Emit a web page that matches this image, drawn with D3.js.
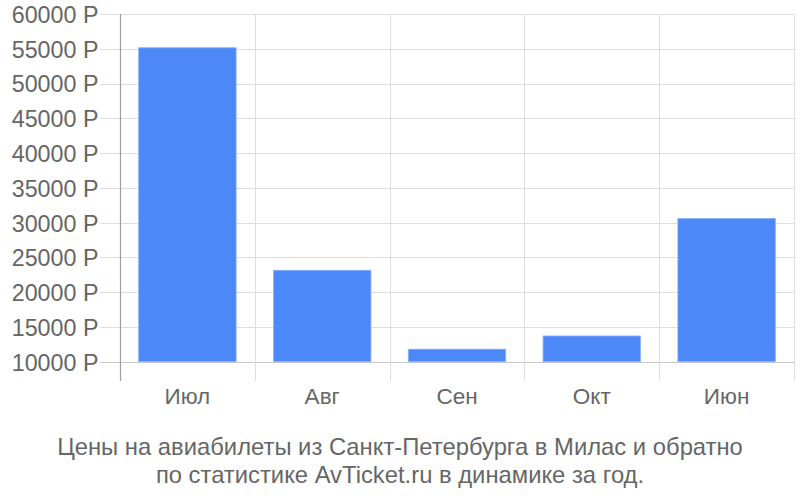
<!DOCTYPE html>
<html><head><meta charset="utf-8">
<script src="https://cdn.jsdelivr.net/npm/d3@7"></script>
<style>body{margin:0;background:#fff}svg{display:block}</style>
</head><body><svg id="c" width="800" height="500"></svg>
<script>
const categories = ["Июл","Авг","Сен","Окт","Июн"];
const values = [55150, 23150, 11800, 13700, 30600];
const yTicks = [10000,15000,20000,25000,30000,35000,40000,45000,50000,55000,60000];
const titleLines = ["Цены на авиабилеты из Санкт-Петербурга в Милас и обратно","по статистике AvTicket.ru в динамике за год."];

(function(){
const svg = d3.select("#c");
const font = "'Liberation Sans', Arial, sans-serif";
const pLeft = 120, pRight = 794, pTop = 14, base = 361.7, axisBottom = 381;
const x = d3.scaleBand().domain(categories).range([pLeft, pRight]).paddingInner(0.277).paddingOuter(0.1385);
const y = d3.scaleLinear().domain([10000, 60000]).range([base, pTop]);

// horizontal grid
svg.append("g").selectAll("line").data(yTicks).join("line")
  .attr("x1", 100).attr("x2", pRight).attr("y1", d => Math.round(y(d))+0.5).attr("y2", d => Math.round(y(d))+0.5)
  .attr("stroke", d => d === 10000 ? "#c8c8c8" : "#dedede").attr("stroke-width", 1);

// vertical grid at band boundaries
const bnd = d3.range(categories.length+1).map(i => pLeft + i * (pRight-pLeft)/categories.length);
svg.append("g").selectAll("line").data(bnd.slice(1)).join("line")
  .attr("x1", d => Math.round(d)+0.5).attr("x2", d => Math.round(d)+0.5).attr("y1", pTop).attr("y2", axisBottom)
  .attr("stroke", "#dedede");

// bars
svg.append("g").selectAll("rect").data(values).join("rect")
  .attr("x", (d,i) => x(categories[i])).attr("width", x.bandwidth())
  .attr("y", d => y(d)).attr("height", d => base - y(d))
  .attr("fill", "#4d88f9").attr("stroke", "#8fb3fb").attr("stroke-width", 0.8);

// left axis line
svg.append("line").attr("x1", pLeft+0.5).attr("x2", pLeft+0.5).attr("y1", pTop).attr("y2", axisBottom)
  .attr("stroke", "#a0a0a0").attr("stroke-width", 1.2);

// y labels
const yAxis = d3.axisLeft(y).tickValues(yTicks).tickSize(0).tickPadding(0).tickFormat(d => d + " Р");
const ya = svg.append("g").attr("transform", `translate(98.5,0)`).call(yAxis);
ya.select(".domain").remove();
ya.selectAll("text").attr("font-family", font).attr("font-size", 23.3).attr("fill", "#666").attr("dy", "0.36em");

// x labels
const xAxis = d3.axisBottom(x).tickSize(0).tickPadding(0);
const xa = svg.append("g").attr("transform", `translate(0,404)`).call(xAxis);
xa.select(".domain").remove();
xa.selectAll("text").attr("font-family", font).attr("font-size", 22.5).attr("fill", "#666").attr("dy", "0");

// title
svg.append("g").selectAll("text").data(titleLines).join("text")
  .attr("x", 400).attr("y", (d,i) => 455 + i*28).attr("text-anchor", "middle")
  .attr("font-family", font).attr("font-size", 23.8).attr("fill", "#666").text(d => d);
})();
</script></body></html>
